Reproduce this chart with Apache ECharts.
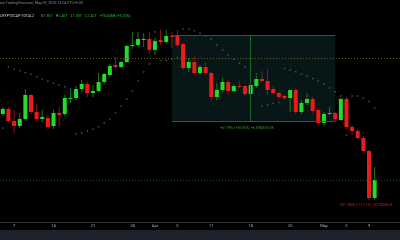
<!DOCTYPE html>
<html><head><meta charset="utf-8">
<script src="https://cdn.jsdelivr.net/npm/echarts@6/dist/echarts.min.js"></script>
<style>html,body{margin:0;padding:0;background:#000}#c{width:400px;height:240px}</style>
</head><body><div id="c"></div>
<script>
// ---- data ----
const dates = (function(){const out=[];const d=new Date(Date.UTC(2025,2,5));for(let i=0;i<71;i++){out.push(d.toISOString().slice(0,10));d.setUTCDate(d.getUTCDate()+1);}return out;})();
const tickLabels = {'2025-03-07':'7','2025-03-14':'14','2025-03-21':'21','2025-03-28':'28','2025-04-01':'Apr','2025-04-05':'5','2025-04-11':'11','2025-04-18':'18','2025-04-25':'25','2025-05-01':'May','2025-05-05':'5','2025-05-09':'9'};
const openV  = [3.86,3.91,3.79,3.74,3.81,4.05,3.88,3.81,3.82,3.74,3.87,3.86,4.01,4.02,4.11,4.16,4.07,4.09,4.18,4.25,4.35,4.33,4.38,4.54,4.55,4.60,4.61,4.50,4.60,4.58,4.64,4.64,4.56,4.32,4.38,4.27,4.33,4.27,4.03,4.10,4.18,4.09,4.14,4.14,4.06,4.14,4.21,4.19,4.11,4.07,4.04,4.02,4.10,3.88,3.97,4.01,3.90,3.77,3.86,3.87,3.80,4.01,3.73,3.69,3.62,3.49,3.02];
const closeV = [3.91,3.79,3.74,3.81,4.05,3.88,3.81,3.83,3.73,3.87,3.85,4.02,4.02,4.11,4.16,4.07,4.09,4.18,4.26,4.34,4.33,4.38,4.54,4.55,4.61,4.61,4.50,4.59,4.58,4.64,4.63,4.55,4.32,4.38,4.27,4.33,4.27,4.03,4.10,4.18,4.09,4.14,4.135,4.06,4.15,4.21,4.19,4.10,4.07,4.03,4.02,4.10,3.88,3.97,4.01,3.89,3.77,3.86,3.87,3.81,4.01,3.73,3.69,3.62,3.49,3.02,3.20];
const lowV   = [3.84,3.77,3.67,3.72,3.80,3.86,3.79,3.78,3.71,3.71,3.73,3.84,3.97,4.00,4.08,4.03,4.03,4.08,4.16,4.24,4.31,4.32,4.37,4.51,4.53,4.53,4.46,4.45,4.55,4.56,4.52,4.53,4.30,4.28,4.25,4.25,4.25,4.00,4.00,4.08,4.05,4.08,4.12,4.04,4.05,4.12,4.18,4.05,4.05,4.01,4.00,3.88,3.86,3.86,3.95,3.87,3.75,3.74,3.85,3.79,3.79,3.71,3.65,3.60,3.48,3.00,3.00];
const highV  = [3.93,3.93,3.90,3.87,4.11,4.06,3.96,3.90,3.85,3.90,3.93,4.05,4.10,4.14,4.20,4.18,4.15,4.27,4.27,4.36,4.43,4.39,4.55,4.68,4.68,4.67,4.68,4.62,4.70,4.70,4.68,4.70,4.57,4.42,4.44,4.35,4.38,4.28,4.17,4.22,4.20,4.16,4.18,4.15,4.16,4.24,4.29,4.31,4.14,4.08,4.05,4.10,4.12,4.00,4.07,4.03,3.92,3.88,3.93,3.88,4.02,4.03,3.75,3.71,3.64,3.50,3.33];
const sarV   = [3.72,4.333,4.31,4.293,4.273,4.257,4.233,4.21,4.19,4.167,4.15,4.133,4.11,3.66,3.673,3.69,3.707,3.733,3.77,3.81,3.87,3.94,4.01,4.09,4.19,4.28,4.36,4.68,4.395,4.395,4.41,4.425,4.71,4.707,4.693,4.667,4.64,4.61,4.55,4.50,4.45,4.407,4.367,4.333,4.30,4.26,3.94,3.95,3.967,3.975,4.315,4.30,4.283,4.26,4.24,4.215,4.193,4.16,4.12,4.083,4.04,3.65,4.04,4.04,4.02,3.985,3.92];
const hLineLevel = 4.42;           // horizontal ray
const boxStart = '2025-04-04', boxMid = '2025-04-18', boxEnd = '2025-05-03';
const boxTop = 4.643, boxBottom = 3.79;

const GREEN='#22dc28', RED='#ea1b1b', GWICK='#177a1e', RWICK='#8e1616', BOXLINE='#1a6526';
const ohlc = openV.map((o,i)=>[i,o,closeV[i],lowV[i],highV[i]]);
const lastClose = closeV[closeV.length-1];

const chart = echarts.init(document.getElementById('c'), null, {renderer:'canvas'});
chart.setOption({
  backgroundColor:'#000000',
  animation:false,
  grid:{left:-1,right:-1,top:0,bottom:18},
  xAxis:{type:'category',data:dates,boundaryGap:true,
    axisLine:{show:true,lineStyle:{color:'#2a2e39',width:1}},
    axisTick:{show:false},splitLine:{show:false},
    axisLabel:{interval:function(i,v){return !!tickLabels[v];},formatter:function(v){return tickLabels[v]||'';},
      fontSize:4,color:'#b2b5be',margin:2,fontFamily:'Roboto'}},
  yAxis:{type:'value',min:2.78,max:5.00,show:false,splitLine:{show:false}},
  series:[
    {type:'custom',data:ohlc,encode:{x:0,y:[1,2,3,4]},clip:true,
      renderItem:function(params,api){
        const i=api.value(0),o=api.value(1),c=api.value(2),l=api.value(3),h=api.value(4);
        const po=api.coord([i,o]),pc=api.coord([i,c]),pl=api.coord([i,l]),ph=api.coord([i,h]);
        const up=c>=o; const x=po[0];
        const top=Math.min(po[1],pc[1]), bot=Math.max(po[1],pc[1]);
        const hgt=Math.max(1,bot-top);
        return {type:'group',children:[
          {type:'line',shape:{x1:x,y1:ph[1],x2:x,y2:pl[1]},style:{stroke:up?GWICK:RWICK,lineWidth:1}},
          {type:'rect',shape:{x:x-2,y:top,width:4,height:hgt},style:{fill:up?GREEN:RED}}
        ]};
      },
      markArea:{silent:true,itemStyle:{color:'#071717'},data:[[{xAxis:boxStart,yAxis:boxTop},{xAxis:boxEnd,yAxis:boxBottom}]]},
      z:3
    },
    {type:'scatter',data:sarV.map((v,i)=>[i,v]),symbol:'rect',symbolSize:1.5,itemStyle:{color:'#5c5f68'},silent:true,z:4,
      markLine:{silent:true,symbol:'none',label:{show:false},
        data:[
          {yAxis:hLineLevel,lineStyle:{color:'#625f1c',type:[1,2],width:1}},
          {yAxis:lastClose,lineStyle:{color:'#174d20',type:[1,2],width:1}},
          [{coord:[boxStart,boxTop],lineStyle:{color:BOXLINE,type:'solid',width:1}},{coord:[boxEnd,boxTop]}],
          [{coord:[boxStart,boxBottom],lineStyle:{color:BOXLINE,type:'solid',width:1}},{coord:[boxEnd,boxBottom]}],
          [{coord:[boxMid,boxTop],lineStyle:{color:BOXLINE,type:'solid',width:1}},{coord:[boxMid,boxBottom]}]
        ]}
    }
  ],
  graphic:[
    {type:'rect',shape:{x:0,y:230,width:400,height:10},style:{fill:'#1f222b'},silent:true},
    {type:'text',left:0,top:1.5,style:{text:'ian TradingView.com, May 09, 2025 13:24 UTC+5:30',fontSize:3.6,fill:'#8a8d96',fontFamily:'Roboto'}},
    {type:'text',left:0,top:10,style:{
      text:'{w|CRYPTOCAP:TOTAL2}  {g|O}{v|1.36T} {g|H}{v|1.40T} {g|L}{v|1.33T} {g|C}{v|1.42T} {v|+70.636B (+5.20%)}',
      rich:{w:{fill:'#d1d4dc',fontSize:3.6,fontFamily:'Roboto'},g:{fill:'#9598a1',fontSize:3.6,fontFamily:'Roboto'},v:{fill:'#22c82a',fontSize:3.6,fontFamily:'Roboto'}}}},
    {type:'text',left:220,top:126,style:{text:'+61.995 (+30.85%) +6,098,855.98',fontSize:3.6,fill:'#22a02c',fontFamily:'Roboto'}},
    {type:'text',left:339,top:203,style:{text:'-307.2808 (-12.21%) -30728080.8',fontSize:3.6,fill:'#c41a1a',fontFamily:'Roboto'}}
  ]
});
</script></body></html>
